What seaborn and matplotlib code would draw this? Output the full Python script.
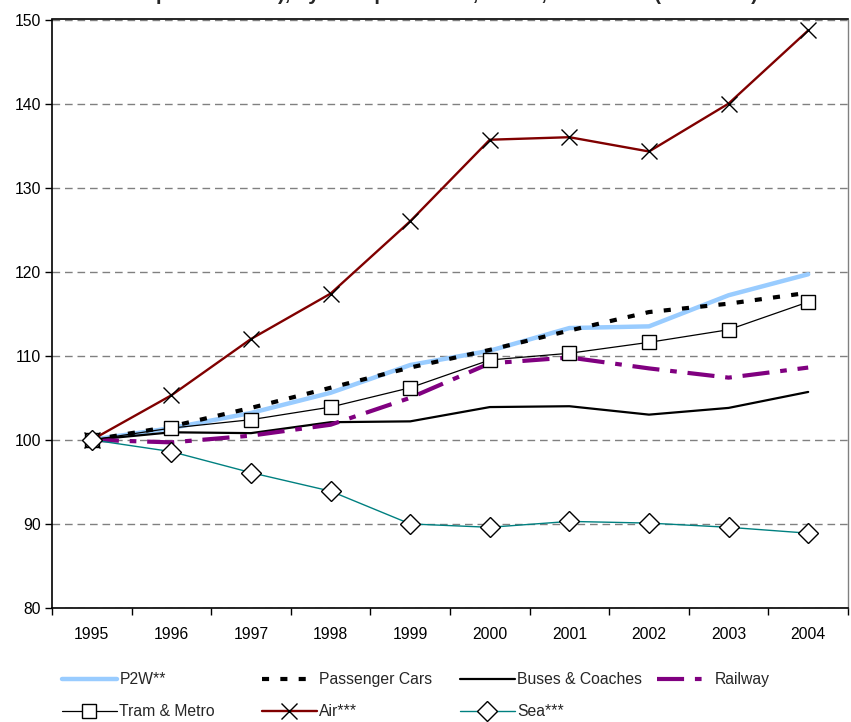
import matplotlib
matplotlib.use("Agg")
import matplotlib.pyplot as plt
import seaborn as sns
from matplotlib.ticker import FixedLocator, FixedFormatter, NullFormatter
from matplotlib.lines import Line2D

# Index values (1995 = 100) by transport mode
years = [1995, 1996, 1997, 1998, 1999, 2000, 2001, 2002, 2003, 2004]
p2w = [100, 101.4, 103.2, 105.6, 108.9, 110.6, 113.3, 113.5, 117.2, 119.7]
cars = [100, 101.6, 103.8, 106.2, 108.6, 110.7, 113.0, 115.2, 116.2, 117.5]
buses = [100, 100.9, 100.8, 102.1, 102.2, 103.9, 104.0, 103.0, 103.8, 105.7]
rail = [100, 99.7, 100.5, 101.8, 105.0, 109.1, 109.8, 108.5, 107.4, 108.6]
tram = [100, 101.4, 102.4, 103.9, 106.2, 109.5, 110.3, 111.6, 113.1, 116.4]
air = [100, 105.3, 112.0, 117.4, 126.0, 135.7, 136.0, 134.3, 140.0, 148.7]
sea = [100, 98.6, 96.1, 93.9, 90.0, 89.6, 90.3, 90.1, 89.6, 88.9]

labels = ["P2W**", "Passenger Cars", "Buses & Coaches", "Railway",
          "Tram & Metro", "Air***", "Sea***"]
y_ticks = [80, 90, 100, 110, 120, 130, 140, 150]
title_line = "performance), by transport mode, EU-25, 1995-2004 (1995=100)"

sns.set_theme(style="white")
plt.rcParams["font.family"] = ["Liberation Sans", "DejaVu Sans"]

fig = plt.figure(figsize=(8.51, 7.22), dpi=100)
ax = fig.add_axes([52 / 851, 1 - 608 / 722, 796 / 851, (608 - 19.5) / 722])

styles = {
    "P2W**": dict(color="#99CCFF", linewidth=3.2, linestyle="-"),
    "Passenger Cars": dict(color="black", linewidth=3.0,
                           linestyle=(0, (1.7, 2.7)), dash_capstyle="butt"),
    "Buses & Coaches": dict(color="black", linewidth=1.6, linestyle="-"),
    "Railway": dict(color="#800080", linewidth=3.0,
                    linestyle=(0, (6.5, 2.6, 1.6, 2.6)), dash_capstyle="butt"),
    "Tram & Metro": dict(color="black", linewidth=0.9, linestyle="-",
                         marker="s", markersize=10.5, markerfacecolor="white",
                         markeredgecolor="black", markeredgewidth=1.0),
    "Air***": dict(color="#800000", linewidth=1.7, linestyle="-",
                   marker="x", markersize=12, markeredgecolor="black",
                   markeredgewidth=1.0),
    "Sea***": dict(color="#008080", linewidth=1.0, linestyle="-",
                   marker="D", markersize=10, markerfacecolor="white",
                   markeredgecolor="black", markeredgewidth=1.0),
}
values = {"P2W**": p2w, "Passenger Cars": cars, "Buses & Coaches": buses,
          "Railway": rail, "Tram & Metro": tram, "Air***": air, "Sea***": sea}

for lab in labels:
    sns.lineplot(x=years, y=values[lab], ax=ax, label=lab, **styles[lab])

ax.set_xlim(1994.5, 2004.5)
ax.set_ylim(80, 150)

# Category-style x axis: ticks on boundaries, labels at centres
ax.xaxis.set_major_locator(FixedLocator([y - 0.5 for y in years] + [2004.5]))
ax.xaxis.set_major_formatter(NullFormatter())
ax.xaxis.set_minor_locator(FixedLocator(years))
ax.xaxis.set_minor_formatter(FixedFormatter([str(y) for y in years]))
ax.tick_params(axis="x", which="major", direction="out", length=5, width=1,
               color="black", bottom=True)
ax.tick_params(axis="x", which="minor", length=0, labelsize=11.3, pad=14,
               labelcolor="black", bottom=True)

ax.set_yticks(y_ticks)
ax.tick_params(axis="y", direction="out", length=5, width=1, color="black",
               left=True, labelsize=11.3, pad=3, labelcolor="black")

ax.yaxis.grid(True, linestyle=(0, (5.5, 3.5)), color="#808080", linewidth=1.0)
ax.xaxis.grid(False)
ax.set_axisbelow(True)

for side in ["left", "bottom", "top"]:
    ax.spines[side].set_color("black")
    ax.spines[side].set_linewidth(1.2)
ax.spines["right"].set_color("#808080")
ax.spines["right"].set_linewidth(1.0)
ax.set_xlabel("")
ax.set_ylabel("")

# Legend: four columns placed below the plot
ax.get_legend().remove()
handles = {lab: Line2D([], [], **styles[lab]) for lab in labels}
columns = [(62, ["P2W**", "Tram & Metro"]),
           (262, ["Passenger Cars", "Air***"]),
           (460, ["Buses & Coaches", "Sea***"]),
           (657, ["Railway"])]
for x0, labs in columns:
    fig.legend([handles[l] for l in labs], labs, loc="upper left",
               bbox_to_anchor=(x0 / 851, 1 - 672 / 722),
               frameon=False, fontsize=11.3, handlelength=3.5,
               handletextpad=0.15, borderpad=0, borderaxespad=0,
               labelspacing=1.1, numpoints=1)

fig.text(457 / 851, 1.0, title_line, ha="center", va="baseline",
         fontsize=14.5, fontweight="bold")

fig.savefig("out.png", dpi=100)
